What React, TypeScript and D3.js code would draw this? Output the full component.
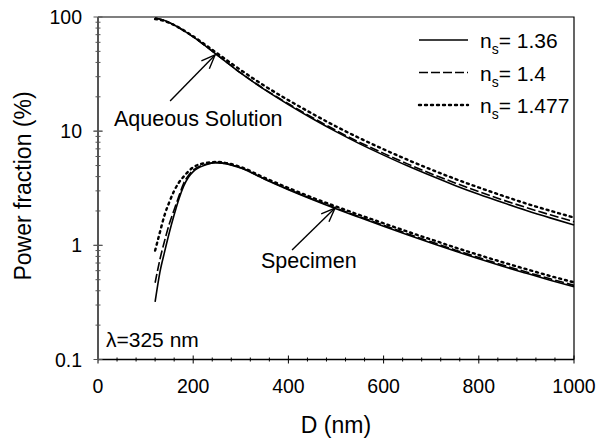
import React, { useEffect, useRef } from "react";
import * as d3 from "d3";

// diameters (nm) used by the curves
const aqueousD = [120, 140, 160, 180, 200, 225, 250, 275, 300, 350, 400, 450, 500, 550, 600, 650, 700, 750, 800, 850, 900, 950, 1000];
const aqueous136 = [98, 93, 85, 76, 67, 56.1, 46.6, 38.7, 32.2, 23.1, 17.1, 12.9, 9.9, 7.74, 6.17, 4.97, 4.06, 3.35, 2.8, 2.37, 2.02, 1.74, 1.51];
const aqueous140 = [98, 93, 85, 76, 67, 56.1, 46.6, 38.8, 32.4, 23.3, 17.4, 13.2, 10.15, 7.97, 6.39, 5.17, 4.24, 3.52, 2.95, 2.5, 2.14, 1.85, 1.61];
const aqueous1477 = [96, 92.1, 85, 76.4, 67.7, 57.2, 48.2, 40.6, 34.3, 24.9, 18.7, 14.25, 11.0, 8.67, 6.94, 5.62, 4.61, 3.82, 3.21, 2.72, 2.32, 2.01, 1.75];

const specimenD = [120, 130, 140, 150, 160, 170, 180, 190, 200, 225, 250, 275, 300, 350, 400, 450, 500, 550, 600, 650, 700, 750, 800, 850, 900, 950, 1000];
const specimen136 = [0.32, 0.58, 0.88, 1.3, 1.85, 2.55, 3.3, 3.95, 4.42, 5.05, 5.3, 5.12, 4.75, 3.79, 3.07, 2.52, 2.09, 1.75, 1.47, 1.24, 1.05, 0.891, 0.762, 0.656, 0.569, 0.495, 0.434];
const specimen140 = [0.47, 0.75, 1.1, 1.55, 2.05, 2.7, 3.5, 4.1, 4.55, 5.1, 5.3, 5.13, 4.77, 3.82, 3.1, 2.55, 2.12, 1.78, 1.5, 1.265, 1.073, 0.912, 0.781, 0.673, 0.584, 0.509, 0.446];
const specimen1477 = [0.9, 1.3, 1.85, 2.4, 3.0, 3.55, 4.0, 4.45, 4.82, 5.25, 5.37, 5.2, 4.85, 3.9, 3.18, 2.62, 2.19, 1.84, 1.56, 1.32, 1.125, 0.958, 0.823, 0.711, 0.618, 0.539, 0.474];

const legendLabels = ["1.36", "1.4", "1.477"];
const xTicks = [0, 200, 400, 600, 800, 1000];
const yTicks = [0.1, 1, 10, 100];
const yTickLabels = ["0.1", "1", "10", "100"];

const W = 598, H = 439;
const left = 98, right = 574, top = 17, bottom = 359.5;
const font = "'Liberation Sans', Arial, sans-serif";
const dashes = ["", "9,3", "2,4"];

function App() {
  const ref = useRef<SVGSVGElement>(null);

  useEffect(() => {
    const svg = d3.select(ref.current);
    svg.selectAll("*").remove();

    const x = d3.scaleLinear().domain([0, 1000]).range([left, right]);
    const y = d3.scaleLog().domain([0.1, 100]).range([bottom, top]);

    const line = d3.line<[number, number]>()
      .x(d => x(d[0]))
      .y(d => y(d[1]))
      .curve(d3.curveMonotoneX);

    const series = [
      { d: aqueousD, v: aqueous136, k: 0 },
      { d: aqueousD, v: aqueous140, k: 1 },
      { d: aqueousD, v: aqueous1477, k: 2 },
      { d: specimenD, v: specimen136, k: 0 },
      { d: specimenD, v: specimen140, k: 1 },
      { d: specimenD, v: specimen1477, k: 2 },
    ];

    series.forEach(s => {
      svg.append("path")
        .attr("d", line(s.d.map((dd, i) => [dd, s.v[i]] as [number, number])))
        .attr("fill", "none")
        .attr("stroke", "#000")
        .attr("stroke-width", s.k === 2 ? 2.4 : 1.6)
        .attr("stroke-dasharray", dashes[s.k])
        .attr("stroke-linecap", s.k === 2 ? "round" : "butt");
    });

    // frame
    svg.append("path")
      .attr("d", `M${left},${top}H${right}V${bottom}`)
      .attr("fill", "none").attr("stroke", "#000").attr("stroke-width", 1.2);

    // x axis
    const gx = svg.append("g");
    gx.append("line").attr("x1", left).attr("x2", right).attr("y1", bottom).attr("y2", bottom)
      .attr("stroke", "#000").attr("stroke-width", 1.3);
    d3.range(0, 1001, 40).forEach(t => {
      const major = t % 200 === 0;
      gx.append("line")
        .attr("x1", x(t)).attr("x2", x(t))
        .attr("y1", bottom - (major ? 4 : 2)).attr("y2", bottom + (major ? 4 : 2))
        .attr("stroke", "#000").attr("stroke-width", 1);
    });
    gx.selectAll("text.xt").data(xTicks).enter().append("text")
      .attr("x", d => x(d)).attr("y", 393)
      .attr("text-anchor", "middle")
      .attr("font-family", font).attr("font-size", 19.5)
      .text(d => String(d));

    // y axis
    const gy = svg.append("g");
    gy.append("line").attr("x1", left).attr("x2", left).attr("y1", top).attr("y2", bottom)
      .attr("stroke", "#555").attr("stroke-width", 2);
    [0.1, 1, 10].forEach(dec => {
      for (let m = 1; m <= 10; m++) {
        const v = dec * m;
        const major = m === 1 || m === 10;
        gy.append("line")
          .attr("x1", left - (major ? 4.5 : 2.5)).attr("x2", left + (major ? 4.5 : 2.5))
          .attr("y1", y(v)).attr("y2", y(v))
          .attr("stroke", "#555").attr("stroke-width", 1);
      }
    });
    gy.selectAll("text.yt").data(yTicks).enter().append("text")
      .attr("x", 82).attr("y", d => y(d) + 7)
      .attr("text-anchor", "end")
      .attr("font-family", font).attr("font-size", 19.5)
      .text((d, i) => yTickLabels[i]);

    // axis titles
    svg.append("text")
      .attr("x", 336).attr("y", 433)
      .attr("text-anchor", "middle")
      .attr("font-family", font).attr("font-size", 23)
      .text("D (nm)");
    svg.append("text")
      .attr("transform", `translate(31,186) rotate(-90)`)
      .attr("text-anchor", "middle")
      .attr("font-family", font).attr("font-size", 23)
      .text("Power fraction (%)");

    // annotations with open arrows
    const arrow = (tx: number, ty: number, fx: number, fy: number) => {
      const a = Math.atan2(ty - fy, tx - fx);
      const L = 15, s = 0.38;
      const g = svg.append("g").attr("stroke", "#000").attr("stroke-width", 1.4).attr("fill", "none");
      g.append("line").attr("x1", fx).attr("y1", fy).attr("x2", tx).attr("y2", ty);
      g.append("path").attr("d",
        `M${tx - L * Math.cos(a - s)},${ty - L * Math.sin(a - s)}L${tx},${ty}L${tx - L * Math.cos(a + s)},${ty - L * Math.sin(a + s)}`);
    };
    const ax = x(246), ay = y(47.5) + 1;
    arrow(ax, ay, ax - 45, ay + 46);
    const sx = x(498), sy = y(2.12);
    arrow(sx, sy, sx - 43, sy + 42);

    svg.append("text").attr("x", 114).attr("y", 126)
      .attr("font-family", font).attr("font-size", 21.5).text("Aqueous Solution");
    svg.append("text").attr("x", 261).attr("y", 268)
      .attr("font-family", font).attr("font-size", 21.5).text("Specimen");
    svg.append("text").attr("x", 106).attr("y", 347)
      .attr("font-family", font).attr("font-size", 21)
      .text("\u03bb=325 nm");

    // legend
    const lg = svg.append("g");
    legendLabels.forEach((lab, i) => {
      const ly = 40 + i * 32.5;
      lg.append("line")
        .attr("x1", 419).attr("x2", 468).attr("y1", ly).attr("y2", ly)
        .attr("stroke", "#000")
        .attr("stroke-width", i === 2 ? 2.4 : 1.6)
        .attr("stroke-dasharray", dashes[i])
        .attr("stroke-linecap", i === 2 ? "round" : "butt");
      const t = lg.append("text").attr("x", 480).attr("y", ly + 8)
        .attr("font-family", font).attr("font-size", 21);
      t.append("tspan").text("n");
      t.append("tspan").attr("font-size", 14).attr("dy", 6).text("s");
      t.append("tspan").attr("dy", -6).text("= " + lab);
    });
  }, []);

  return (
    <svg ref={ref} width={W} height={H}
      style={{ position: "absolute", left: 0, top: 0, background: "#fff" }} />
  );
}

export default App;
